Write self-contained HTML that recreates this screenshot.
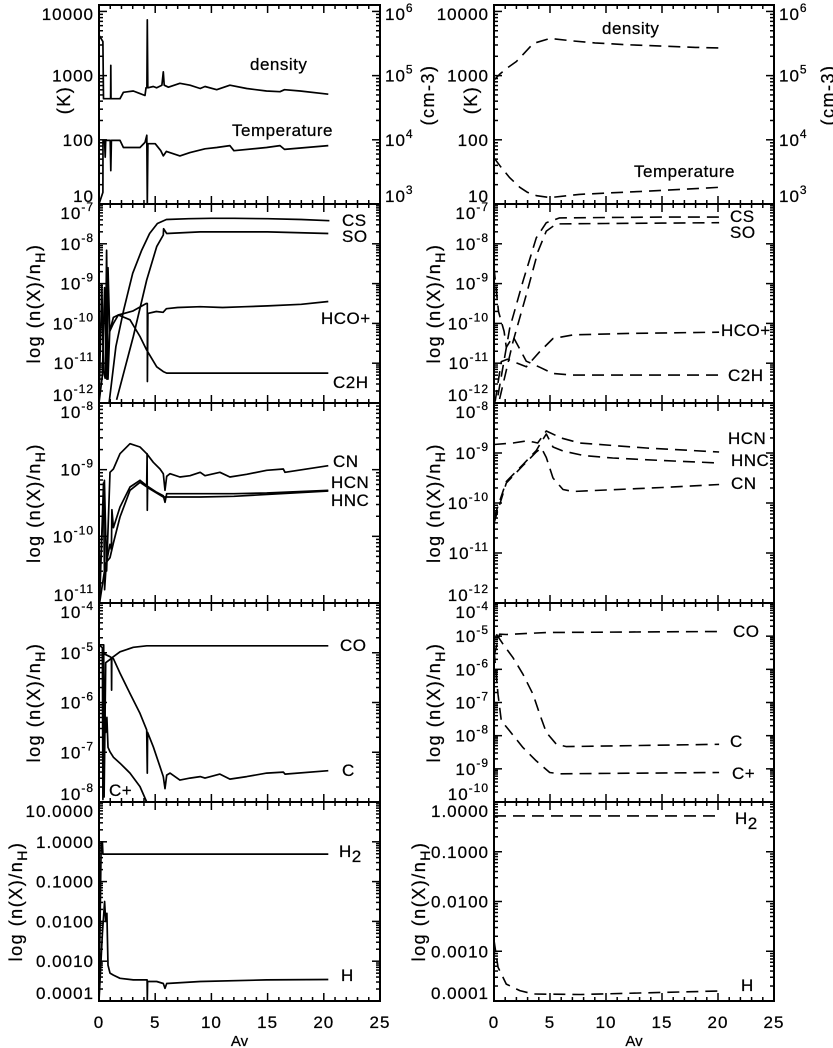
<!DOCTYPE html>
<html><head><meta charset="utf-8"><style>
html,body{margin:0;padding:0;background:#fff}
svg{display:block;font-family:"Liberation Sans",sans-serif}
svg text{stroke:#000;stroke-width:0.25}
</style></head><body>
<svg id="chart" width="833" height="1048" viewBox="0 0 833 1048" xmlns="http://www.w3.org/2000/svg"></svg>
<script>
// ---------- data (log10 values) ----------
const xTicks=[0,5,10,15,20,25];
const densAvL=[0,0.35,0.4,0.98,1.03,1.05,1.07,1.87,2.17,3.05,3.65,4.09,4.18,4.26,4.3,4.34,4.83,5.13,5.6,5.72,5.8,6.17,7.2,8.1,9.0,9.43,10.47,11.65,13.14,14.9,16.1,16.5,17.9,20.4];
const densLogL=[5.63,5.53,4.64,4.64,4.64,5.16,4.64,4.64,4.74,4.76,4.72,4.69,4.81,4.81,5.87,4.81,4.83,4.81,4.85,5.06,4.85,4.82,4.88,4.85,4.80,4.83,4.78,4.85,4.80,4.76,4.75,4.78,4.76,4.71];
const tempAvL=[0,0.35,0.36,0.5,0.55,0.6,1.0,1.05,1.1,1.87,2.17,3.65,4.09,4.25,4.3,4.35,5.0,5.5,5.72,6.0,7.2,8.1,9.43,10.47,11.65,12.0,14.9,16.1,16.5,20.4];
const tempLogL=[1.0,1.18,1.99,1.99,1.73,1.99,1.99,1.52,1.99,1.99,1.88,1.88,1.96,2.07,1.0,1.94,1.94,1.83,1.75,1.82,1.75,1.80,1.86,1.88,1.91,1.83,1.88,1.91,1.85,1.91];
const densAvR=[0,0.5,1.2,2.0,2.6,3.5,5.0,7,9,12,15,18,20.3];
const densLogR=[4.93,5.02,5.12,5.22,5.33,5.5,5.58,5.54,5.51,5.48,5.46,5.44,5.43];
const tempAvR=[0,0.6,1.4,2.3,3.0,3.8,5.0,7.6,10,13.6,17,20.1];
const tempLogR=[1.72,1.58,1.41,1.26,1.18,1.13,1.10,1.15,1.17,1.2,1.23,1.26];

const csAvL=[0.9,1.5,2.2,3.0,3.8,4.5,5.2,6.0,8,10,12,15,18,20.5];
const csLogL=[-12.0,-10.58,-9.66,-8.74,-8.16,-7.74,-7.49,-7.39,-7.37,-7.36,-7.36,-7.37,-7.39,-7.42];
const soAvL=[1.57,3.05,4.24,5.13,5.72,5.75,6.02,9.0,15,20.4];
const soLogL=[-11.92,-10.33,-8.91,-8.07,-7.78,-7.62,-7.74,-7.70,-7.70,-7.74];
const hcoAvL=[0,0.3,0.5,0.7,0.8,0.95,1.28,1.72,3.0,4.2,4.3,4.31,4.35,5.1,5.7,6.0,7,9,11,13,15,18,20.4];
const hcoLogL=[-12,-11.3,-9.1,-11.4,-8.6,-10.2,-9.85,-9.79,-9.69,-9.5,-9.5,-11.46,-9.75,-9.7,-9.72,-9.63,-9.6,-9.58,-9.6,-9.58,-9.56,-9.52,-9.45];
const cchAvL=[0,0.25,0.4,0.55,0.68,0.8,0.95,1.28,1.72,2.76,3.65,4.24,5.13,5.72,6.02,10,15,20.4];
const cchLogL=[-12,-9.03,-11.2,-11.38,-8.16,-11.4,-10.2,-10.0,-9.79,-9.91,-10.33,-10.67,-11.09,-11.21,-11.25,-11.25,-11.25,-11.25];
const csAvR=[0.36,1.4,2.59,3.78,4.67,5.86,10,15,20.1];
const csLogR=[-11.81,-10.12,-8.94,-7.85,-7.47,-7.35,-7.34,-7.33,-7.33];
const soAvR=[0.5,1.7,2.88,3.93,4.67,5.57,10,15,20.1];
const soLogR=[-11.9,-10.46,-9.28,-8.19,-7.68,-7.50,-7.49,-7.48,-7.47];
const hcoAvR=[0.1,0.65,1.2,2.88,4.08,5.27,7.05,12,20.1];
const hcoLogR=[-11.97,-10.96,-10.9,-11.09,-10.71,-10.38,-10.29,-10.25,-10.22];
const cchAvR=[0,0.4,0.9,1.1,1.7,2.88,4.08,5.27,7.05,12,20.1];
const cchLogR=[-8.6,-9.7,-10.2,-10.6,-10.33,-10.95,-11.1,-11.26,-11.3,-11.3,-11.3];

const cnAvL=[0,0.48,0.68,0.98,1.28,1.87,2.76,3.65,4.24,4.83,5.43,5.72,5.87,6.02,6.32,7.2,8.1,9.0,9.43,10.76,11.65,13.14,14.92,16.4,16.55,20.4];
const cnLogL=[-10.97,-9.16,-10.52,-9.04,-8.99,-8.76,-8.61,-8.66,-8.76,-8.89,-8.99,-9.06,-9.31,-9.1,-9.06,-9.11,-9.09,-9.04,-9.09,-9.04,-9.11,-9.07,-9.01,-8.99,-9.04,-8.94];
const hcnAvL=[0.05,0.4,0.5,0.65,0.98,1.1,1.15,1.28,1.87,2.76,3.65,4.24,4.28,4.3,4.32,5.13,5.72,5.87,6.02,7.2,9.0,12.0,14.92,20.4];
const hcnLogL=[-11,-9.2,-10.8,-10.4,-10.12,-10.2,-9.6,-9.87,-9.56,-9.26,-9.16,-9.24,-8.76,-9.61,-9.25,-9.34,-9.39,-9.49,-9.36,-9.36,-9.36,-9.36,-9.35,-9.31];
const hncAvL=[0.05,0.6,0.98,1.28,1.87,2.76,3.65,4.54,5.72,6.02,7.2,9.0,12,20.4];
const hncLogL=[-11,-10.4,-10.32,-10.1,-9.71,-9.31,-9.19,-9.29,-9.41,-9.41,-9.41,-9.41,-9.40,-9.32];
const hcnAvR=[0,1.7,2.88,3.5,3.9,4.67,6,7.65,10.6,13.6,20.1];
const hcnLogR=[-8.83,-8.80,-8.76,-8.78,-8.8,-8.56,-8.7,-8.80,-8.85,-8.90,-8.98];
const hncAvR=[0,1.1,2.59,3.78,4.3,4.67,5.27,6.16,8,10.6,15,20.1];
const hncLogR=[-10.3,-9.57,-9.23,-8.95,-8.75,-8.62,-8.88,-8.96,-9.05,-9.10,-9.15,-9.2];
const cnAvR=[0,1.1,2.59,3.78,4.23,4.67,5.27,6.16,7.05,10,15,20.1];
const cnLogR=[-10.4,-9.6,-9.25,-8.98,-8.9,-9.09,-9.5,-9.73,-9.77,-9.74,-9.69,-9.63];

const coAvL=[0,0.42,0.45,0.6,0.9,1.28,1.87,3.05,4.24,8,20.4];
const coLogL=[-4.84,-4.84,-7.9,-5.2,-5.15,-5.08,-4.98,-4.89,-4.86,-4.86,-4.86];
const cAvL=[0.33,0.98,1.1,1.12,1.14,1.28,1.87,2.76,3.65,4.24,4.3,4.32,4.83,5.43,5.72,5.87,6.02,6.32,7.2,8.1,9.0,9.43,10.76,11.65,13.14,14.92,16.4,16.55,20.4];
const cLogL=[-5.01,-5.08,-5.1,-5.75,-5.1,-5.12,-5.41,-5.82,-6.22,-6.55,-7.42,-6.6,-6.89,-7.29,-7.49,-7.73,-7.46,-7.42,-7.56,-7.52,-7.49,-7.52,-7.44,-7.54,-7.49,-7.42,-7.40,-7.44,-7.37];
const cpAvL=[0,0.3,0.35,0.5,0.6,0.7,0.8,0.98,1.28,1.87,2.76,3.65,4.24];
const cpLogL=[-4.84,-4.9,-7.95,-6.08,-6.6,-6.3,-6.9,-6.99,-7.1,-7.22,-7.42,-7.69,-8.0];
const coAvR=[0,0.3,0.5,1.1,4.7,20.1];
const coLogR=[-5.6,-5.2,-4.94,-4.95,-4.89,-4.86];
const cAvR=[0.21,0.8,1.7,2.59,3.48,4.08,4.67,5.57,6.46,20.1];
const cLogR=[-4.94,-5.24,-5.65,-6.15,-6.75,-7.35,-7.9,-8.26,-8.33,-8.26];
const cpAvR=[0.01,0.36,0.65,1.4,2.59,3.78,4.97,5.86,20.1];
const cpLogR=[-5.45,-6.75,-7.55,-7.86,-8.36,-8.76,-9.11,-9.15,-9.11];

const h2AvL=[0,0.2,0.3,0.35,20.4];
const h2LogL=[-4,0.0,0.0,-0.31,-0.31];
const hAvL=[0,0.3,0.5,0.6,0.7,0.8,0.98,1.28,1.87,3.05,3.9,4.28,4.3,4.32,5.13,5.72,5.87,6.02,9.0,14.9,20.4];
const hLogL=[-4,-2.3,-1.5,-2.0,-1.8,-3.1,-3.30,-3.35,-3.43,-3.47,-3.47,-3.47,-3.97,-3.51,-3.51,-3.56,-3.68,-3.56,-3.51,-3.47,-3.46];
const h2AvR=[0,20.1];
const h2LogR=[-0.28,-0.28];
const hAvR=[0,0.36,1.1,2.3,3.5,7.7,13,20.1];
const hLogR=[-2.78,-3.32,-3.66,-3.79,-3.86,-3.87,-3.84,-3.80];

const p5Labels=["0.0001","0.0010","0.0100","0.1000","1.0000","10.0000"];
const p1Labels=["10","100","1000","10000"];

// ---------- layout ----------
const X0=[99,494],X1=[380,774];
const TOP=[5,204,403,603,802],BOT=[204,403,603,802,1001];
const YR=[[[1,4.1],[-12,-7],[-11,-8],[-8,-4],[-4,1]],[[1,4.1],[-12,-7],[-12,-8],[-10,-4],[-4,0]]];
const NS="http://www.w3.org/2000/svg";
const svg=document.getElementById('chart');
function mk(tag,attrs,parent){const e=document.createElementNS(NS,tag);for(const k in attrs)e.setAttribute(k,attrs[k]);(parent||svg).appendChild(e);return e;}
function sx(c,av){return X0[c]+av/25*(X1[c]-X0[c]);}
function sy(c,r,v){const lo=YR[c][r][0],hi=YR[c][r][1];return TOP[r]+(hi-v)/(hi-lo)*(BOT[r]-TOP[r]);}
function clampY(r,y){return Math.max(TOP[r]+9,Math.min(BOT[r]-8,y));}

function supLabel(x,y,base,exp,anchor,g){
  const t=mk('text',{x:x,y:y+6,'font-size':17,'text-anchor':anchor,'letter-spacing':1},g);
  t.appendChild(document.createTextNode(base));
  const s=mk('tspan',{dy:-8,'font-size':12},t);s.textContent=exp;
  return t;
}

for(let c=0;c<2;c++){
  for(let r=0;r<5;r++){
    const g=mk('g',{});
    
    
    const x0=X0[c],x1=X1[c],t=TOP[r],b=BOT[r];
    for(let a=0;a<=25;a++){const x=sx(c,a);const L=a%5===0?8:4;
      mk('line',{x1:x,y1:b,x2:x,y2:b-L,stroke:'#000','stroke-width':1.5},g);
      mk('line',{x1:x,y1:t,x2:x,y2:t+L,stroke:'#000','stroke-width':1.5},g);}
    const lo=YR[c][r][0],hi=YR[c][r][1];
    for(let d=Math.floor(lo);d<=Math.ceil(hi);d++){
      for(let k=1;k<10;k++){const v=d+Math.log10(k);if(v<lo-1e-6||v>hi+1e-6)continue;
        const y=sy(c,r,v);const L=k===1?8:4;
        mk('line',{x1:x0,y1:y,x2:x0+L,y2:y,stroke:'#000','stroke-width':1.5},g);
        mk('line',{x1:x1,y1:y,x2:x1-L,y2:y,stroke:'#000','stroke-width':1.5},g);}
    }
    for(let d=Math.ceil(lo);d<=Math.floor(hi);d++){
      const y=clampY(r,sy(c,r,d));let lab;
      if(r===0){lab=mk('text',{x:x0-5,y:y+6,'font-size':17,'text-anchor':'end','letter-spacing':1},g);lab.textContent=p1Labels[d-1];}
      else if(r===4){lab=mk('text',{x:x0-5,y:y+6,'font-size':17,'text-anchor':'end','letter-spacing':1},g);lab.textContent=p5Labels[d+4];}
      else{lab=supLabel(x0-5,y,'10',String(d),'end',g);}
      
      
      if(r===0){const rl=supLabel(x1+5,y,'10',String(d+2),'start',g);
        
        }
    }
    mk('rect',{x:x0,y:t,width:x1-x0,height:b-t,fill:'none',stroke:'#000','stroke-width':2},g);
    const cp=mk('clipPath',{id:'cp'+c+r},g);mk('rect',{x:x0,y:t,width:x1-x0,height:b-t},cp);
  }
  xTicks.forEach(v=>{const tl=mk('text',{x:sx(c,v),y:1028,'font-size':17,'text-anchor':'middle','letter-spacing':1});tl.textContent=String(v);
    
    });
  const xt=mk('text',{x:(X0[c]+X1[c])/2,y:1046,'font-size':15,'text-anchor':'middle'});xt.textContent='Av';
  
  
}

const series=[
 [0,0,densAvL,densLogL,'density-left'],[0,0,tempAvL,tempLogL,'temperature-left'],
 [1,0,densAvR,densLogR,'density-right'],[1,0,tempAvR,tempLogR,'temperature-right'],
 [0,1,csAvL,csLogL,'cs-left'],[0,1,soAvL,soLogL,'so-left'],[0,1,hcoAvL,hcoLogL,'hco-left'],[0,1,cchAvL,cchLogL,'c2h-left'],
 [1,1,csAvR,csLogR,'cs-right'],[1,1,soAvR,soLogR,'so-right'],[1,1,hcoAvR,hcoLogR,'hco-right'],[1,1,cchAvR,cchLogR,'c2h-right'],
 [0,2,cnAvL,cnLogL,'cn-left'],[0,2,hcnAvL,hcnLogL,'hcn-left'],[0,2,hncAvL,hncLogL,'hnc-left'],
 [1,2,hcnAvR,hcnLogR,'hcn-right'],[1,2,hncAvR,hncLogR,'hnc-right'],[1,2,cnAvR,cnLogR,'cn-right'],
 [0,3,coAvL,coLogL,'co-left'],[0,3,cAvL,cLogL,'c-left'],[0,3,cpAvL,cpLogL,'cplus-left'],
 [1,3,coAvR,coLogR,'co-right'],[1,3,cAvR,cLogR,'c-right'],[1,3,cpAvR,cpLogR,'cplus-right'],
 [0,4,h2AvL,h2LogL,'h2-left'],[0,4,hAvL,hLogL,'h-left'],
 [1,4,h2AvR,h2LogR,'h2-right'],[1,4,hAvR,hLogR,'h-right']
];
series.forEach(s=>{
  const c=s[0],r=s[1],av=s[2],vals=s[3];
  let v=r===0&&s[4].startsWith('density')?vals.map(x=>x-2):vals;
  const d=av.map((a,i)=>(i?'L':'M')+sx(c,a).toFixed(1)+','+sy(c,r,v[i]).toFixed(1)).join('');
  const p=mk('path',{d:d,fill:'none',stroke:'#000','stroke-width':c?1.6:1.7,'clip-path':'url(#cp'+c+r+')','stroke-linejoin':'round'});
  if(c===1)p.setAttribute('stroke-dasharray','12,7');
  
  
});

const labels=[
 ['density',250,70],['Temperature',232,136],['density',602,34],['Temperature',634,177],
 ['CS',342,226],['SO',342,242],['HCO+',321,324],['C2H',333,388],
 ['CS',730,222],['SO',730,238],['HCO+',721,336],['C2H',728,381],
 ['CN',333,467],['HCN',331,488],['HNC',331,506],
 ['HCN',728,444],['HNC',731,466],['CN',731,489],
 ['CO',340,651],['C',342,776],['C+',109,796],
 ['CO',733,637],['C',730,747],['C+',732,779],
 ['H',339,857,'2'],['H',341,981],['H',735,824,'2'],['H',741,991]
];
labels.forEach(l=>{
  const t=mk('text',{x:l[1],y:l[2],'font-size':17,'letter-spacing':0.5});
  t.appendChild(document.createTextNode(l[0]));
  if(l[3]){const s=mk('tspan',{dy:5,'font-size':17},t);s.textContent=l[3];}
  
  
});

function rot(x,y,txt,name,sub,after){
  const t=mk('text',{x:0,y:0,'font-size':18,'text-anchor':'middle','letter-spacing':1.5,transform:'translate('+x+','+y+') rotate(-90)'});
  t.appendChild(document.createTextNode(txt));
  if(sub){const s=mk('tspan',{dy:5,'font-size':14},t);s.textContent=sub;const s2=mk('tspan',{dy:-5},t);s2.textContent=after;}
  
  
}
rot(70,100,'(K)','temperature-axis-title-left');
rot(477,100,'(K)','temperature-axis-title-right');
rot(434,95,'(cm-3)','density-axis-title-left');
rot(834,95,'(cm-3)','density-axis-title-right');
for(let r=1;r<5;r++){
  const yc=(TOP[r]+BOT[r])/2;
  rot(r===4?22:40,yc,'log (n(X)/n','abundance-axis-title-left','H',')');
  rot(r===4?425:440,yc,'log (n(X)/n','abundance-axis-title-right','H',')');
}
</script>
</body></html>
